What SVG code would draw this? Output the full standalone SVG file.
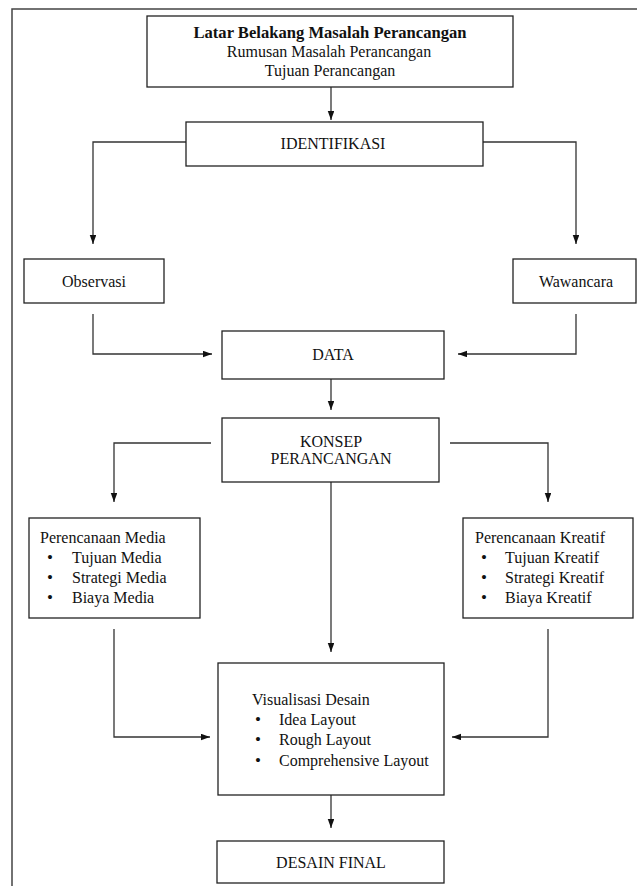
<svg xmlns="http://www.w3.org/2000/svg" width="637" height="886" viewBox="0 0 637 886">
<defs>
<marker id="ah" markerWidth="10" markerHeight="8" refX="9" refY="3.25" orient="auto" markerUnits="userSpaceOnUse">
<path d="M0,0 L9,3.25 L0,6.5 z" fill="#111"/>
</marker>
<style>
.box{fill:#fff;stroke:#222;stroke-width:1.3}
.t{font-family:"Liberation Serif","Times New Roman",serif;font-size:16px;fill:#111}
.c{text-anchor:middle}
.b{font-weight:bold;font-size:16.6px}
.bu{font-size:17px}
.ln{fill:none;stroke:#333;stroke-width:1.3;marker-end:url(#ah)}
.frame{fill:none;stroke:#444;stroke-width:1.5}
</style>
</defs>
<rect width="637" height="886" fill="#fff"/>
<path class="frame" d="M12,886 V9 H637"/>
<g id="connectors">
<path class="ln" d="M331,87 V120"/>
<path class="ln" d="M186,142 H93 V244"/>
<path class="ln" d="M483,142 H576 V244"/>
<path class="ln" d="M93,314 V354 H212"/>
<path class="ln" d="M576,314 V354 H458"/>
<path class="ln" d="M331,379 V410"/>
<path class="ln" d="M211,443 H114 V502"/>
<path class="ln" d="M450,443 H548 V502"/>
<path class="ln" d="M331,482 V652"/>
<path class="ln" d="M114,629 V737 H210"/>
<path class="ln" d="M548,629 V737 H452"/>
<path class="ln" d="M331,795 V828"/>
</g>
<g id="latar">
<rect class="box" x="147" y="16" width="366" height="71"/>
<text class="t c b" x="330" y="38">Latar Belakang Masalah Perancangan</text>
<text class="t c" x="329" y="57">Rumusan Masalah Perancangan</text>
<text class="t c" x="330" y="76">Tujuan Perancangan</text>
</g>
<g id="identifikasi">
<rect class="box" x="186" y="122" width="297" height="44"/>
<text class="t c" x="333" y="149">IDENTIFIKASI</text>
</g>
<g id="observasi">
<rect class="box" x="24" y="259" width="140" height="44"/>
<text class="t c" x="94" y="287">Observasi</text>
</g>
<g id="wawancara">
<rect class="box" x="513" y="259" width="123" height="44"/>
<text class="t c" x="576" y="287">Wawancara</text>
</g>
<g id="data">
<rect class="box" x="222" y="331" width="222" height="48"/>
<text class="t c" x="333" y="360">DATA</text>
</g>
<g id="konsep">
<rect class="box" x="222" y="418" width="217" height="64"/>
<text class="t c" x="331" y="447">KONSEP</text>
<text class="t c" x="331" y="464">PERANCANGAN</text>
</g>
<g id="media">
<rect class="box" x="29" y="518" width="171" height="100"/>
<text class="t" x="40" y="543">Perencanaan Media</text>
<text class="t bu" x="47" y="563">•</text><text class="t" x="72" y="563">Tujuan Media</text>
<text class="t bu" x="47" y="583">•</text><text class="t" x="72" y="583">Strategi Media</text>
<text class="t bu" x="47" y="603">•</text><text class="t" x="72" y="603">Biaya Media</text>
</g>
<g id="kreatif">
<rect class="box" x="463" y="518" width="170" height="100"/>
<text class="t" x="475" y="543">Perencanaan Kreatif</text>
<text class="t bu" x="481" y="563">•</text><text class="t" x="505" y="563">Tujuan Kreatif</text>
<text class="t bu" x="481" y="583">•</text><text class="t" x="505" y="583">Strategi Kreatif</text>
<text class="t bu" x="481" y="603">•</text><text class="t" x="505" y="603">Biaya Kreatif</text>
</g>
<g id="visualisasi">
<rect class="box" x="218" y="663" width="226" height="132"/>
<text class="t" x="252" y="705">Visualisasi Desain</text>
<text class="t bu" x="255" y="725">•</text><text class="t" x="279" y="725">Idea Layout</text>
<text class="t bu" x="255" y="745">•</text><text class="t" x="279" y="745">Rough Layout</text>
<text class="t bu" x="255" y="766">•</text><text class="t" x="279" y="766">Comprehensive Layout</text>
</g>
<g id="final">
<rect class="box" x="217" y="841" width="227" height="42"/>
<text class="t c" x="331" y="868">DESAIN FINAL</text>
</g>
</svg>
